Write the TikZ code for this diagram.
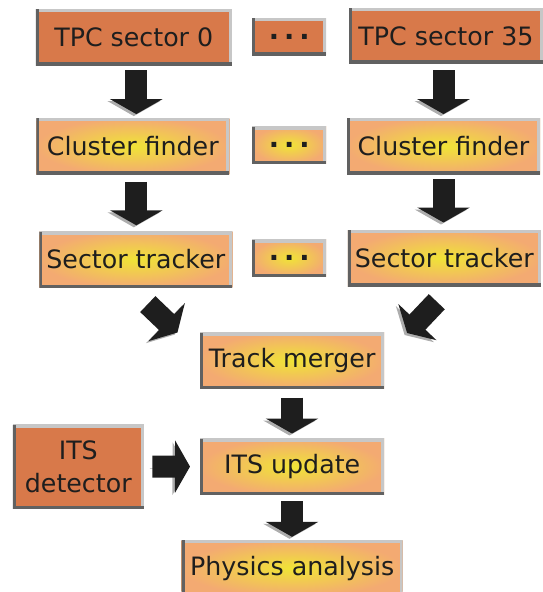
\documentclass[tikz,border=0pt]{standalone}
\usepackage{fontspec}
\setmainfont{DejaVu Sans}
\usetikzlibrary{arrows.meta}

\definecolor{rust}{HTML}{D8794A}
\definecolor{peach}{HTML}{F3AA72}
\definecolor{lemon}{HTML}{F0E436}
\definecolor{ink}{HTML}{1E1E1E}

\begin{document}
\begin{tikzpicture}[
    x=1pt,
    y=-1pt,
    font=\fontsize{25.3}{32.7}\selectfont,
    text=ink,
    bevel/.style={
        path picture={
            \draw[line width=6pt, black!22] (path picture bounding box.south east) -- (path picture bounding box.north east) -- (path picture bounding box.north west);
            \draw[line width=6pt, black!62] (path picture bounding box.north west) -- (path picture bounding box.south west) -- (path picture bounding box.south east);
        },
    },
    source/.style={
        rectangle,
        inner sep=0pt,
        fill=rust,
        bevel,
    },
    stage/.style={
        rectangle,
        inner sep=0pt,
        shading=radial,
        inner color=lemon,
        outer color=peach,
        bevel,
    },
    dotbox/.style={
        minimum width=74pt,
        minimum height=37pt,
        font=\bfseries\fontsize{27}{32.7}\selectfont,
    },
    fat/.style={
        draw=ink,
        line width=22pt,
        -{Triangle[width=52pt,length=15pt]},
        preaction={draw=black!32, transform canvas={shift={(-2.5pt,-2pt)}}},
    },
    gap/.style 2 args={
        shorten <=#1pt,
        shorten >=#2pt,
    },
]
    \useasboundingbox (0,0) rectangle (543,592);

    % TPC sectors
    \node[source, minimum width=196pt, minimum height=56pt] (tpc0)  at (133.8,37.2) {TPC sector 0};
    \node[source, dotbox]                                   (more0) at (289.2,36.7) {.\kern5pt.\kern5pt.};
    \node[source, minimum width=194pt, minimum height=55pt] (tpc35) at (446,35.8)   {TPC sector 35};

    % per sector processing
    \begin{scope}[
        every node/.append style={
            stage,
            minimum width=193pt,
            minimum height=56pt,
        },
    ]
        \node (clf0)  at (132.8,146.3) {Cluster finder};
        \node (clf35) at (443.5,146.3) {Cluster finder};
        \node (trk0)  at (135.8,259.5) {Sector tracker};
        \node (trk35) at (444.3,258)   {Sector tracker};
    \end{scope}
    \node[stage, dotbox] (more1) at (289.2,145) {.\kern5pt.\kern5pt.};
    \node[stage, dotbox] (more2) at (289.2,258) {.\kern5pt.\kern5pt.};

    % global stages
    \node[stage, minimum width=184pt, minimum height=56pt] (merger)  at (292.2,360.7) {Track merger};
    \node[source, minimum width=131pt, minimum height=84pt, align=center] (its) at (78.3,466.5) {ITS\\detector};
    \node[stage, minimum width=184pt, minimum height=56pt] (update)  at (292.2,466.7) {ITS update};
    \node[stage, minimum width=221pt, minimum height=56pt] (physics) at (292.2,568.3) {Physics analysis};

    \coordinate (colL) at (136.3,0);
    \coordinate (colR) at (443.5,0);
    \coordinate (colM) at (292,0);

    \begin{scope}[
        every edge/.append style={
            fat,
        },
    ]
        \path
        (tpc0.south -| colL)  edge [gap={5}{4}]     (clf0.north -| colL)
        (clf0.south -| colL)  edge [gap={7.4}{6}]   (trk0.north -| colL)
        (tpc35.south -| colR) edge [gap={6.7}{4}]   (clf35.north -| colR)
        (clf35.south -| colR) edge [gap={4.7}{7.3}] (trk35.north -| colR)
        ([shift={(12,16.4)}]trk0.south)  edge ([shift={(-22.5,0)}]merger.north west)
        ([shift={(-7.5,15.5)}]trk35.south) edge ([shift={(22.7,0.5)}]merger.north east)
        (merger.south -| colM) edge [gap={8.6}{5}]   (update.north -| colM)
        (update.south -| colM) edge [gap={6.3}{3.3}] (physics.north -| colM)
        (its)                  edge [gap={8.3}{10}]  (update);
    \end{scope}
\end{tikzpicture}
\end{document}
